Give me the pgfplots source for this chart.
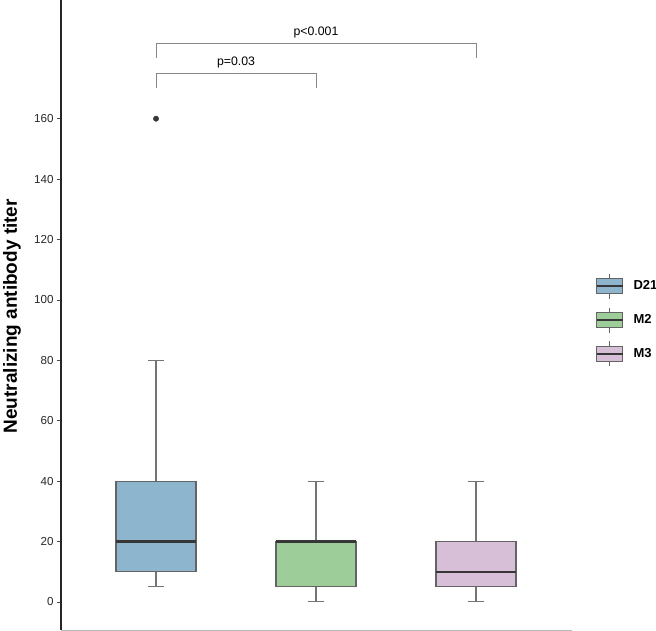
\documentclass[border=0pt]{standalone}
\usepackage{fontspec}
\setmainfont{Liberation Sans}
\usepackage{pgfplots}
\pgfplotsset{compat=1.18}
\usepgfplotslibrary{statistics}

\definecolor{cD}{RGB}{141,181,206}
\definecolor{cM}{RGB}{157,206,153}
\definecolor{cT}{RGB}{216,191,216}
\definecolor{edge}{RGB}{100,100,100}
\definecolor{med}{RGB}{55,55,55}
\definecolor{brk}{RGB}{135,135,135}

\pgfplotsset{
  boxkey/.style={legend image code/.code={
    \draw[edge, line width=0.9pt] (13pt,-12.5pt) -- (13pt,12.5pt);
    \draw[fill=#1, draw=edge, line width=0.9pt] (0pt,-7.5pt) rectangle (26pt,7.5pt);
    \draw[med, line width=1.3pt] (0pt,0pt) -- (26pt,0pt);
  }},
}

\begin{document}
\begin{tikzpicture}[x=1pt,y=1pt]
\useasboundingbox (0,0) rectangle (656,631);
\begin{axis}[
  at={(61pt,1pt)}, anchor=south west,
  scale only axis, width=511pt, height=630pt,
  xmin=0.406, xmax=3.6, ymin=-9.3, ymax=199.3,
  axis lines=left, axis line style={-},
  x axis line style={gray!55, line width=0.8pt},
  y axis line style={black!85, line width=1.2pt},
  xtick=\empty,
  ytick={0,20,...,160},
  tick align=outside, major tick length=4pt,
  ytick style={black!70, line width=0.7pt},
  /pgf/number format/assume math mode=true,
  yticklabel style={font=\fontsize{11.6}{13}\selectfont, text=black!85},
  every axis y label/.style={at={(axis description cs:-0.0959,0.498)}, rotate=90, anchor=center},
  ylabel={\fontsize{19}{22}\selectfont\bfseries Neutralizing antibody titer},
  clip=false,
  boxplot/draw direction=y,
  boxplot/box extend=0.5,
  boxplot/whisker extend=0.1,
  boxplot/every box/.style={draw=edge, line width=1.2pt},
  boxplot/every whisker/.style={draw=edge!90, line width=1.1pt},
  boxplot/every median/.style={draw=med, line width=2.2pt},
  legend style={at={(1.047,0.492)}, anchor=west, draw=none, fill=none,
    inner sep=0pt, row sep=8pt,
    nodes={inner sep=0pt, font=\fontsize{13}{15}\selectfont\bfseries},
    /tikz/every odd column/.append style={column sep=10pt}},
  legend cell align=left,
]
% D21
\addplot[boxplot prepared={draw position=1, lower whisker=5, lower quartile=10, median=20, upper quartile=40, upper whisker=80}, fill=cD, forget plot] coordinates {};
% M2
\addplot[boxplot prepared={draw position=2, lower whisker=0, lower quartile=5, median=20, upper quartile=20, upper whisker=40}, fill=cM, forget plot] coordinates {};
% M3
\addplot[boxplot prepared={draw position=3, lower whisker=0, lower quartile=5, median=10, upper quartile=20, upper whisker=40}, fill=cT, forget plot] coordinates {};
% outlier
\addplot[only marks, mark=*, mark size=2.7pt, color=med, forget plot] coordinates {(1,160)};
% significance brackets
\addplot[brk, line width=0.9pt, forget plot] coordinates {(1,170.2) (1,175.1) (2,175.1) (2,170.2)};
\addplot[brk, line width=0.9pt, forget plot] coordinates {(1,180.2) (1,185) (3,185) (3,180.2)};
\node[font=\fontsize{12.3}{14}\selectfont] at (axis cs:1.5,178.6) {p=0.03};
\node[font=\fontsize{12.3}{14}\selectfont] at (axis cs:2,188.6) {p<0.001};

\addlegendimage{boxkey=cD}\addlegendentry{D21}
\addlegendimage{boxkey=cM}\addlegendentry{M2}
\addlegendimage{boxkey=cT}\addlegendentry{M3}
\end{axis}
\end{tikzpicture}
\end{document}
